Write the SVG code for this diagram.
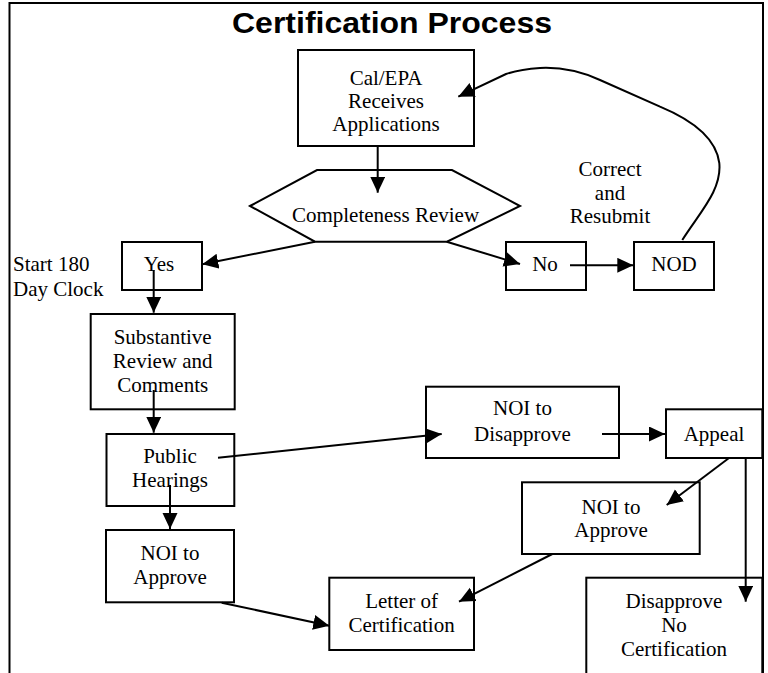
<svg xmlns="http://www.w3.org/2000/svg" width="768" height="673" viewBox="0 0 768 673">
<style>
.frame{fill:none;stroke:#000;stroke-width:2}
.box{fill:#fff;stroke:#000;stroke-width:2}
.t{font-family:"Liberation Serif","Times New Roman",serif;font-size:21px;fill:#000;text-anchor:middle}
.tl{font-family:"Liberation Serif","Times New Roman",serif;font-size:21px;fill:#000}
.title{font-family:"Liberation Sans",Arial,sans-serif;font-size:29px;font-weight:bold;fill:#000}
.c{fill:none;stroke:#000;stroke-width:2;marker-end:url(#ah)}
</style>
<defs>
<marker id="ah" markerUnits="userSpaceOnUse" markerWidth="17" markerHeight="16" refX="16" refY="7.5" orient="auto" viewBox="0 0 17 16">
<path d="M0,0 L16,7.5 L0,15 z" fill="#000"/>
</marker>
</defs>
<rect width="768" height="673" fill="#fff"/>
<path class="frame" d="M9.5,673 V3 H763 V673"/>
<text class="title" x="232" y="33" textLength="320" lengthAdjust="spacingAndGlyphs">Certification Process</text>

<g id="nodes">
<g id="cal"><rect class="box" x="298" y="50" width="176" height="96"/>
<text class="t" x="386" y="84.5">Cal/EPA</text><text class="t" x="386" y="107.5">Receives</text><text class="t" x="386" y="130.5">Applications</text></g>
<g id="review"><polygon class="box" points="250,206 317,170 452,170 520,206 447,241.7 315,241.7"/>
<text class="t" x="385.5" y="222">Completeness Review</text></g>
<g id="yes"><rect class="box" x="122" y="242" width="80" height="48"/><text class="t" x="159" y="271">Yes</text></g>
<g id="clock"><text class="tl" x="13" y="271">Start 180</text><text class="tl" x="13" y="296">Day Clock</text></g>
<g id="no"><rect class="box" x="506" y="242" width="80" height="48"/><text class="t" x="545" y="271">No</text></g>
<g id="nod"><rect class="box" x="634" y="242" width="80" height="48"/><text class="t" x="674" y="271">NOD</text></g>
<g id="resubmit"><text class="t" x="610" y="176">Correct</text><text class="t" x="610" y="199.5">and</text><text class="t" x="610" y="223">Resubmit</text></g>
<g id="substantive"><rect class="box" x="90.7" y="314" width="144" height="95.3"/>
<text class="t" x="162.7" y="343.5">Substantive</text><text class="t" x="162.7" y="368">Review and</text><text class="t" x="162.7" y="392">Comments</text></g>
<g id="public"><rect class="box" x="106.5" y="434" width="127.8" height="72"/>
<text class="t" x="170" y="463">Public</text><text class="t" x="170" y="487">Hearings</text></g>
<g id="noi-disapprove"><rect class="box" x="426" y="386.7" width="193" height="71.3"/>
<text class="t" x="522.5" y="415">NOI to</text><text class="t" x="522.5" y="441">Disapprove</text></g>
<g id="appeal"><rect class="box" x="666" y="409.3" width="96.3" height="48.7"/><text class="t" x="714" y="441">Appeal</text></g>
<g id="noi-approve-r"><rect class="box" x="522" y="482.3" width="177.7" height="71.7"/>
<text class="t" x="611" y="513.5">NOI to</text><text class="t" x="611" y="537">Approve</text></g>
<g id="noi-approve-l"><rect class="box" x="106" y="530" width="128" height="72.3"/>
<text class="t" x="170" y="559.5">NOI to</text><text class="t" x="170" y="584">Approve</text></g>
<g id="letter"><rect class="box" x="329.3" y="577.7" width="144.7" height="72.3"/>
<text class="t" x="401.6" y="608">Letter of</text><text class="t" x="401.6" y="632">Certification</text></g>
<g id="disapprove"><rect class="box" x="586.3" y="577.7" width="176" height="110"/>
<text class="t" x="674" y="608">Disapprove</text><text class="t" x="674" y="632">No</text><text class="t" x="674" y="656">Certification</text></g>
</g>

<g id="connectors">
<path class="c" d="M377.7,146 V192.7"/>
<path class="c" d="M315,241.7 L202.3,264.3"/>
<path class="c" d="M446.7,241.7 L520,264"/>
<path class="c" d="M570,265.3 H633.3"/>
<path class="c" d="M682.3,240 C700,212 722,190 719.3,163 C716,138 692,120 660,106.7 L600,80 C580,71 560,67 540,68 C525,69 515,71 506,74 L458.3,96.7"/>
<path class="c" d="M153.7,270 V312.7"/>
<path class="c" d="M153.7,390 V432.7"/>
<path class="c" d="M218,457.7 L441.7,434"/>
<path class="c" d="M602,434 H665"/>
<path class="c" d="M170,485 V529"/>
<path class="c" d="M221.7,602.7 L329.3,625.7"/>
<path class="c" d="M729,458 L666.7,505"/>
<path class="c" d="M745.7,458 V601.7"/>
<path class="c" d="M552.3,554 L459,601.7"/>
</g>
</svg>
